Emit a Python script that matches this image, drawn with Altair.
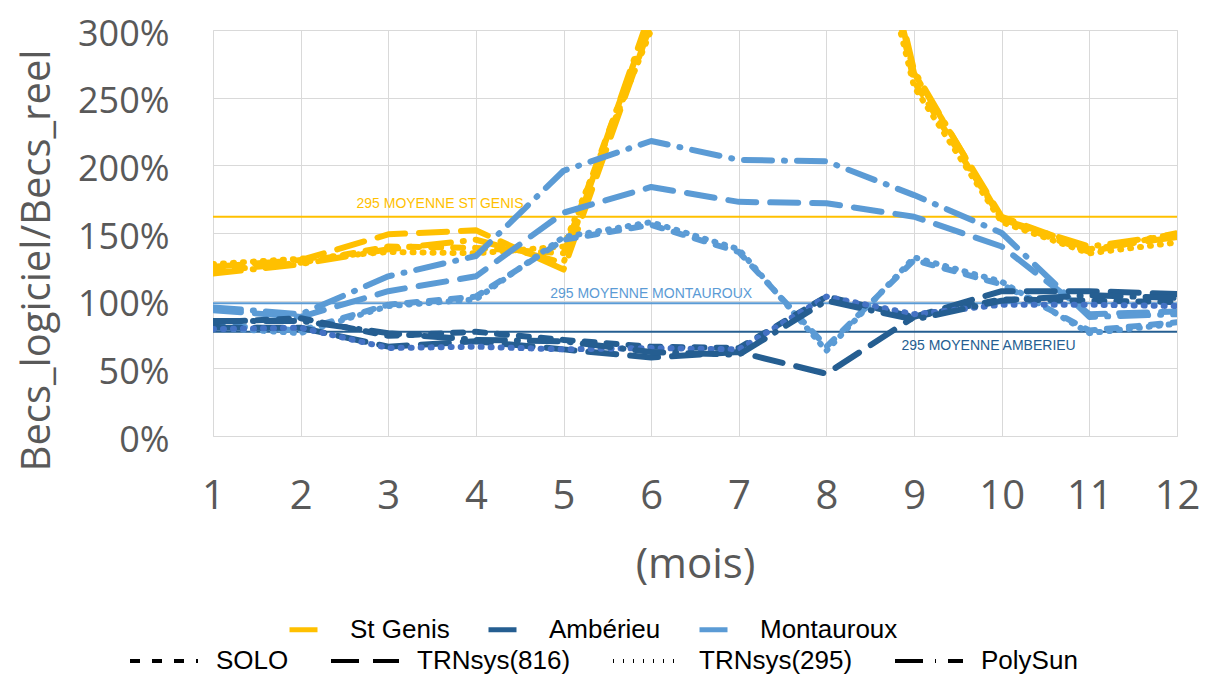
import altair as alt
import pandas as pd

# ---------------- data ----------------
months = list(range(1, 13))
sites = ["St Genis", "Ambérieu", "Montauroux"]
softwares = ["SOLO", "TRNsys(816)", "TRNsys(295)", "PolySun"]

# values in % (Becs_logiciel / Becs_reel)
st_genis_solo = [122, 128, 140, 139, 135, 310, 600, 540, 262, 160, 136, 150]
st_genis_trn816 = [125, 130, 149, 152, 123, 305, 600, 530, 268, 162, 138, 147]
st_genis_trn295 = [127, 131, 136, 135, 140, 300, 600, 520, 258, 158, 135, 143]
st_genis_polysun = [120, 127, 138, 145, 128, 315, 600, 545, 270, 160, 140, 149]

amberieu_solo = [84, 87, 74, 77, 71, 66, 65, 103, 88, 101, 100, 99]
amberieu_trn816 = [80, 80, 66, 70, 64, 58, 62, 46, 88, 107, 107, 105]
amberieu_trn295 = [79, 80, 65, 66, 64, 65, 64, 103, 90, 97, 97, 96]
amberieu_polysun = [85, 85, 76, 71, 70, 62, 60, 100, 86, 100, 104, 102]

montauroux_solo = [82, 78, 97, 103, 145, 156, 136, 66, 130, 112, 78, 84]
montauroux_trn816 = [93, 88, 107, 118, 165, 184, 173, 172, 162, 140, 90, 92]
montauroux_trn295 = [80, 76, 96, 101, 147, 158, 138, 63, 132, 114, 76, 83]
montauroux_polysun = [95, 90, 118, 133, 196, 218, 204, 203, 178, 150, 88, 90]

# 295 averages (horizontal reference lines)
moy_labels = ["295 MOYENNE ST GENIS", "295 MOYENNE MONTAUROUX", "295 MOYENNE AMBERIEU"]
moy_values = [162, 98, 77]
moy_colors = ["#FFC000", "#5B9BD5", "#255E91"]
moy_label_month = [3.59, 6.0, 9.85]
moy_label_dy = [-13, -9, 14]

site_colors = {"St Genis": "#FFC000", "Ambérieu": "#255E91", "Montauroux": "#5B9BD5",
               "Ambérieu (295)": "#4472C4"}

series = [
    ("St Genis", "SOLO", st_genis_solo),
    ("St Genis", "TRNsys(816)", st_genis_trn816),
    ("St Genis", "TRNsys(295)", st_genis_trn295),
    ("St Genis", "PolySun", st_genis_polysun),
    ("Montauroux", "SOLO", montauroux_solo),
    ("Montauroux", "TRNsys(816)", montauroux_trn816),
    ("Montauroux", "TRNsys(295)", montauroux_trn295),
    ("Montauroux", "PolySun", montauroux_polysun),
    ("Ambérieu", "SOLO", amberieu_solo),
    ("Ambérieu", "TRNsys(816)", amberieu_trn816),
    ("Ambérieu", "TRNsys(295)", amberieu_trn295),
    ("Ambérieu", "PolySun", amberieu_polysun),
]

rows = []
for order, (site, sw, vals) in enumerate(series):
    key = "Ambérieu (295)" if (site == "Ambérieu" and sw == "TRNsys(295)") else site
    for m, v in zip(months, vals):
        rows.append({"mois": m, "ratio": v / 100.0, "site": key,
                     "logiciel": sw, "serie": f"{site} {sw}", "ordre": order})
df = pd.DataFrame(rows)

moy_df = pd.DataFrame({
    "label": moy_labels,
    "ratio": [v / 100.0 for v in moy_values],
    "couleur": moy_colors,
    "mois": moy_label_month,
})

# ---------------- chart ----------------
LEG_FONT = "Liberation Sans"
AX_FONT = "Open Sans"

x_scale = alt.Scale(domain=[1, 12], nice=False)
y_scale = alt.Scale(domain=[0, 3], nice=False)

lines = alt.Chart(df).mark_line(strokeWidth=6, strokeCap="round", strokeJoin="round", clip=True).encode(
    x=alt.X("mois:Q", scale=x_scale,
            axis=alt.Axis(values=months, format="d", labelFlush=False, labelOverlap=False,
                          labelFontSize=40, labelFont=AX_FONT, labelColor="#595959",
                          labelPadding=40, tickSize=0, domain=False, gridColor="#D9D9D9",
                          title="(mois)", titleFont=AX_FONT, titleFontSize=42, titleFontWeight="normal",
                          titleColor="#595959", titleY=128, titleBaseline="middle")),
    y=alt.Y("ratio:Q", scale=y_scale,
            axis=alt.Axis(values=[0, 0.5, 1, 1.5, 2, 2.5, 3], format=".0%", labelFontSize=36,
                          labelFont=AX_FONT, labelColor="#595959", labelPadding=44, tickSize=0,
                          labelOffset=4, labelFlush=False,
                          domain=False, gridColor="#D9D9D9",
                          title="Becs_logiciel/Becs_reel", titleFont=AX_FONT, titleFontSize=40,
                          titleFontWeight="normal", titleColor="#595959",
                          titleX=-176, titleY=230, titleAlign="center", titleBaseline="middle")),
    color=alt.Color("site:N",
                    scale=alt.Scale(domain=list(site_colors.keys()), range=list(site_colors.values())),
                    legend=alt.Legend(orient="none", legendX=74, legendY=583, direction="horizontal",
                                      title=None, values=sites, symbolType="stroke",
                                      symbolStrokeWidth=5, symbolSize=784, labelFontSize=26,
                                      labelFont=LEG_FONT, labelColor="black", labelOffset=30,
                                      columnPadding=28)),
    strokeDash=alt.StrokeDash("logiciel:N",
                              scale=alt.Scale(domain=softwares,
                                              range=[[10, 12], [28, 14], [1, 9], [28, 12, 1, 12]]),
                              legend=alt.Legend(orient="none", legendX=-85, legendY=595,
                                                direction="horizontal", title=None,
                                                symbolStrokeColor="black", symbolStrokeWidth=4,
                                                symbolSize=4624, labelFontSize=26, labelFont=LEG_FONT,
                                                labelColor="black", labelOffset=16, columnPadding=34)),
    detail="serie:N",
    order="ordre:Q",
)

rules = alt.Chart(moy_df).mark_rule(strokeWidth=2).encode(
    y=alt.Y("ratio:Q", scale=y_scale),
    color=alt.Color("couleur:N", scale=None),
)

label_layers = []
for lab, dy in zip(moy_labels, moy_label_dy):
    label_layers.append(
        alt.Chart(moy_df).transform_filter(alt.datum.label == lab)
        .mark_text(fontSize=14, font=LEG_FONT, align="center", baseline="middle", dy=dy)
        .encode(
            x=alt.X("mois:Q", scale=x_scale),
            y=alt.Y("ratio:Q", scale=y_scale),
            text="label:N",
            color=alt.Color("couleur:N", scale=None),
        )
    )

chart = alt.layer(rules, lines, *label_layers).resolve_scale(color="independent").properties(
    width=964,
    height=406,
    autosize=alt.AutoSizeParams(type="none"),
    padding={"left": 205, "top": 22, "right": 26, "bottom": 242},
).configure_view(stroke=None).configure(background="white")

chart.save("out.html", embed_options={"renderer": "svg", "actions": False})
